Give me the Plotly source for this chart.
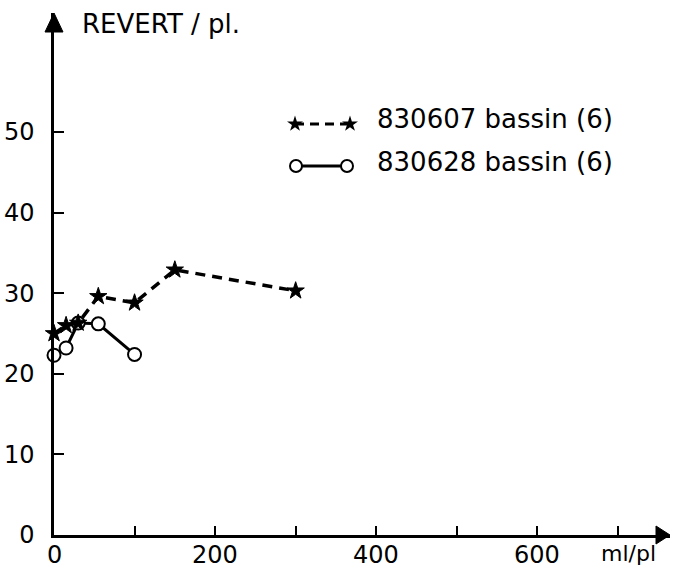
import plotly.graph_objects as go

# Dose (ml/pl) and revertant counts for the two sampling dates
dose_830607 = [0, 15, 30, 55, 100, 150, 300]
rev_830607 = [25.0, 26.0, 26.3, 29.6, 28.8, 32.9, 30.3]

dose_830628 = [0, 15, 30, 55, 100]
rev_830628 = [22.3, 23.2, 26.3, 26.2, 22.4]

label_830607 = "830607 bassin (6)"
label_830628 = "830628 bassin (6)"

x_tick_vals = [0, 100, 200, 300, 400, 500, 600, 700]
x_label_vals = [0, 200, 400, 600]
x_label_text = ["0", "200", "400", "600"]
y_tick_vals = [0, 10, 20, 30, 40, 50]
y_tick_text = ["0", "10", "20", "30", "40", "50"]

FONT = "DejaVu Sans"
W, H = 673, 570
ML, MR, MT, MB = 54, 3, 13, 35
PW, PH = W - ML - MR, H - MT - MB
PX_PER_X = 0.8055   # pixels per ml/pl
PX_PER_Y = 8.06     # pixels per revertant

fig = go.Figure()

fig.add_trace(go.Scatter(
    x=dose_830628, y=rev_830628, mode="lines+markers",
    line=dict(color="black", width=3),
    marker=dict(symbol="circle", size=13, color="white",
                line=dict(color="black", width=2)),
    cliponaxis=False, showlegend=False,
))
fig.add_trace(go.Scatter(
    x=dose_830607, y=rev_830607, mode="lines+markers",
    line=dict(color="black", width=3.5, dash="10px,7px"),
    marker=dict(symbol="star", size=13, color="black",
                line=dict(color="black", width=1)),
    cliponaxis=False, showlegend=False,
))

# Key drawn on a pixel-scaled overlay axis pair
fig.add_trace(go.Scatter(
    x=[295, 350], y=[124, 124], xaxis="x2", yaxis="y2", mode="lines+markers",
    line=dict(color="black", width=3, dash="9px,6px"),
    marker=dict(symbol="star", size=12, color="black"),
    showlegend=False, hoverinfo="skip",
))
fig.add_trace(go.Scatter(
    x=[296, 347], y=[166, 166], xaxis="x2", yaxis="y2", mode="lines+markers",
    line=dict(color="black", width=3),
    marker=dict(symbol="circle", size=12, color="white",
                line=dict(color="black", width=2)),
    showlegend=False, hoverinfo="skip",
))

annotations = [
    dict(text=label_830607, x=375, y=119, xref="x2", yref="y2",
         xanchor="left", yanchor="middle", showarrow=False,
         font=dict(family=FONT, size=26, color="black")),
    dict(text=label_830628, x=375, y=162, xref="x2", yref="y2",
         xanchor="left", yanchor="middle", showarrow=False,
         font=dict(family=FONT, size=26, color="black")),
    dict(text="REVERT / pl.", x=80, y=24, xref="x2", yref="y2",
         xanchor="left", yanchor="middle", showarrow=False,
         font=dict(family=FONT, size=26, color="black")),
    dict(text="ml/pl", x=(628 - ML) / PW, y=(H - MB - 553) / PH,
         xref="paper", yref="paper",
         xanchor="center", yanchor="middle", showarrow=False,
         font=dict(family=FONT, size=22, color="black")),
]

# x tick labels placed just under the axis line
for v, t in zip(x_label_vals, x_label_text):
    annotations.append(dict(
        text=t, x=v, y=(H - MB - 555) / PH, xref="x", yref="paper",
        xanchor="center", yanchor="middle", showarrow=False,
        font=dict(family=FONT, size=24, color="black"),
    ))

# Arrowheads at the ends of both axes
ax_base = (656 - ML) / PW
ax_half = 9 / PH
ay_base = (H - MB - 32) / PH
ay_half = 9 / PW
shapes = [
    dict(type="path", xref="paper", yref="paper",
         path=f"M {ax_base} {ax_half} L 1 0 L {ax_base} {-ax_half} Z",
         fillcolor="black", line=dict(color="black", width=1)),
    dict(type="path", xref="paper", yref="paper",
         path=f"M {-ay_half} {ay_base} L 0 1 L {ay_half} {ay_base} Z",
         fillcolor="black", line=dict(color="black", width=1)),
]

fig.update_layout(
    width=W, height=H,
    margin=dict(l=ML, r=MR, t=MT, b=MB, pad=0, autoexpand=False),
    paper_bgcolor="white", plot_bgcolor="white",
    font=dict(family=FONT, color="black"),
    xaxis=dict(
        range=[0, PW / PX_PER_X], showgrid=False, zeroline=False,
        showline=True, linecolor="black", linewidth=2.5, automargin=False,
        ticks="inside", ticklen=9, tickwidth=2, tickcolor="black",
        tickvals=x_tick_vals, showticklabels=False,
    ),
    yaxis=dict(
        range=[0, PH / PX_PER_Y], showgrid=False, zeroline=False,
        showline=True, linecolor="black", linewidth=2.5, automargin=False,
        ticks="inside", ticklen=10, tickwidth=2, tickcolor="black",
        tickvals=y_tick_vals, ticktext=y_tick_text,
        tickfont=dict(family=FONT, size=24, color="black"),
        ticklabelstandoff=12,
    ),
    xaxis2=dict(range=[ML, W - MR], overlaying="x", anchor="y2",
                visible=False, fixedrange=True),
    yaxis2=dict(range=[H - MB, MT], overlaying="y", anchor="x2",
                visible=False, fixedrange=True),
    annotations=annotations,
    shapes=shapes,
)

fig.write_html("out.html")
